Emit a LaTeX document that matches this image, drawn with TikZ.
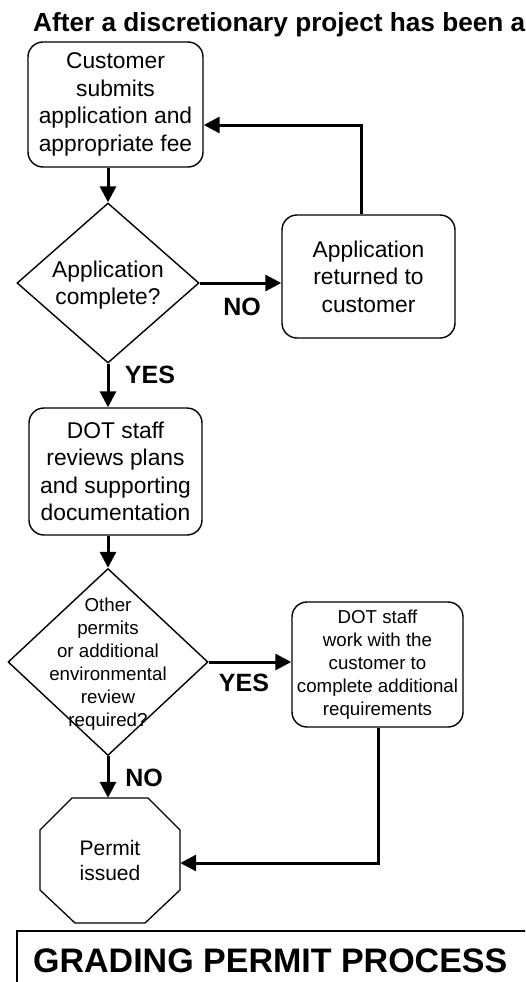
\documentclass[tikz,border=0pt]{standalone}
\usepackage{fontspec}
\setmainfont{Liberation Sans}
\usetikzlibrary{arrows.meta,shapes.geometric}
\begin{document}
\begin{tikzpicture}[x=1pt,y=-1pt,
  box/.style={draw,line width=1.4pt,rounded corners=15pt,align=center,inner sep=0pt,font=\fontsize{22.8}{27.5}\selectfont},
  smallbox/.style={draw,line width=1.4pt,rounded corners=15pt,align=center,inner sep=0pt,font=\fontsize{18.7}{23}\selectfont},
  dia/.style={draw,diamond,line width=1.4pt,inner sep=0pt},
  bigtxt/.style={align=center,inner sep=0pt,font=\fontsize{22.8}{27}\selectfont},
  smalltxt/.style={align=center,inner sep=0pt,font=\fontsize{18.7}{23}\selectfont},
  lab/.style={inner sep=0pt,font=\bfseries\fontsize{25}{30}\selectfont},
  conn/.style={line width=3pt,-{Triangle[length=16pt,width=16pt]}},
  line/.style={line width=3pt}
]
\useasboundingbox (0,0) rectangle (525,982);
\clip (0,0) rectangle (525,982);

% heading
\node[anchor=base west,inner sep=0pt,font=\bfseries\fontsize{26.2}{30}\selectfont] (head) at (33,32) {After a discretionary project has been a};

% nodes
\node[box,minimum width=175pt,minimum height=125pt] (b1) at (115.5,104.5) {Customer\\submits\\application and\\appropriate fee};
\node[dia,minimum width=182pt,minimum height=160pt] (d1) at (108,283) {};
\node[bigtxt] (d1t) at (108,285) {Application\\complete?};
\node[box,minimum width=173pt,minimum height=123pt] (b2) at (368.5,276.5) {Application\\returned to\\customer};
\node[box,minimum width=173pt,minimum height=127pt] (b3) at (115.5,471.5) {DOT staff\\reviews plans\\and supporting\\documentation};
\node[dia,minimum width=200pt,minimum height=187pt] (d2) at (108,662) {};
\node[smalltxt] (d2t) at (108,664) {Other\\permits\\or additional\\environmental\\review\\required?};
\node[smallbox,minimum width=171pt,minimum height=125pt] (b4) at (377.5,664.5) {DOT staff\\work with the\\customer to\\complete additional\\requirements};
\node[inner sep=0pt,minimum width=140pt,minimum height=125pt,align=center,font=\fontsize{21}{25}\selectfont] (oct) at (110,860.5) {Permit\\issued};
\draw[line width=1.3pt] (72,798) -- (148,798) -- (180,830) -- (180,890) -- (145,923) -- (75,923) -- (40,890) -- (40,830) -- cycle;

% connectors
\draw[conn] (b1.south -| d1.north) -- (d1.north);
\draw[conn] (d1.east) -- (b2.west |- d1.east);
\coordinate (fb) at (361,125);
\draw[conn] (b2.north -| fb) -- (fb) -- (b1.east |- fb);
\draw[conn] (d1.south) -- (b3.north -| d1.south);
\draw[conn] (b3.south -| d2.north) -- (d2.north);
\draw[conn] (d2.east) -- (b4.west |- d2.east);
\draw[conn] (d2.south) -- (oct.north -| d2.south);
\coordinate (rt) at (378,863);
\draw[conn] (b4.south -| rt) -- (rt) -- (oct.east |- rt);

% labels
\node[lab] (no1) at (242,307) {NO};
\node[lab] (yes1) at (150,375) {YES};
\node[lab] (yes2) at (244,683) {YES};
\node[lab] (no2) at (144,778) {NO};

% bottom title
\draw[line width=1.5pt] (540,931) -- (17,931) -- (17,1000);
\node[anchor=base west,inner sep=0pt,font=\bfseries\fontsize{34}{40}\selectfont] (title) at (33,972) {GRADING PERMIT PROCESS};
\end{tikzpicture}
\end{document}
